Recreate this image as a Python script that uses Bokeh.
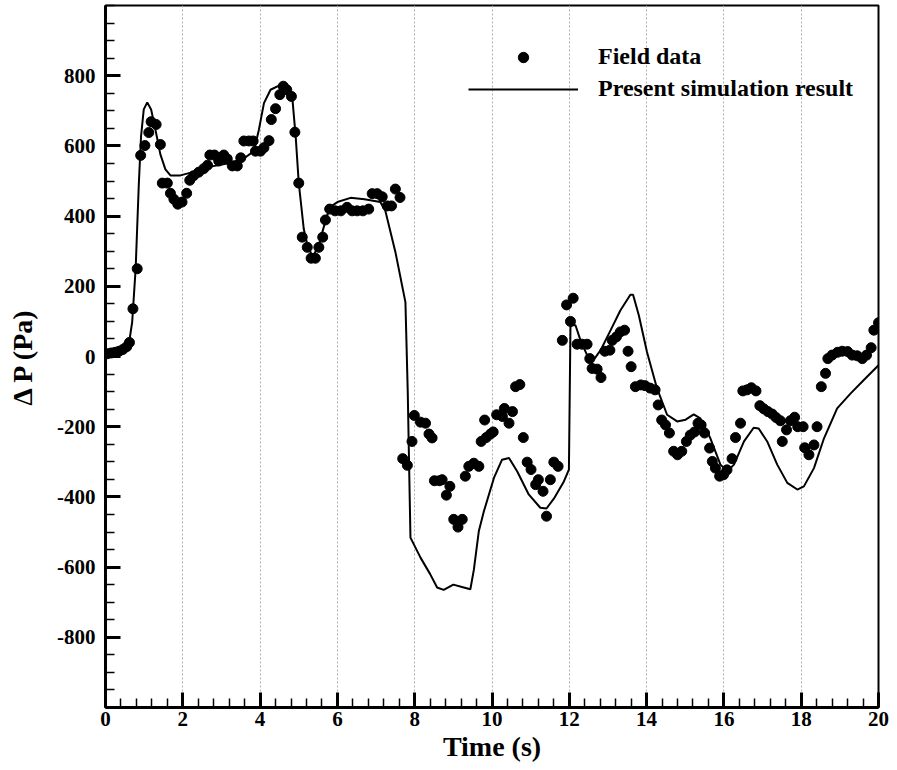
from bokeh.plotting import figure
from bokeh.models import FixedTicker, Legend, LegendItem, Range1d, PrintfTickFormatter
from bokeh.embed import file_html
from bokeh.resources import INLINE

# ---- data ----
field_t = [0.05, 0.15, 0.25, 0.35, 0.45, 0.55, 0.62, 0.71, 0.82, 0.91, 1.02, 1.12, 1.18, 1.31, 1.42,
           1.47, 1.6, 1.68, 1.77, 1.87, 1.98, 2.1, 2.18, 2.28, 2.41, 2.54, 2.64, 2.7, 2.82, 2.93,
           3.06, 3.15, 3.28, 3.41, 3.5, 3.58, 3.71, 3.82, 3.88, 4.01, 4.1, 4.23, 4.29, 4.4, 4.51,
           4.6, 4.69, 4.81, 4.9, 5.0, 5.09, 5.22, 5.32, 5.43, 5.52, 5.62, 5.69, 5.8, 5.94, 6.09,
           6.25, 6.38, 6.51, 6.66, 6.81, 6.9, 7.03, 7.16, 7.29, 7.4, 7.5, 7.62, 7.69, 7.81, 7.93,
           7.99, 8.15, 8.28, 8.37, 8.45, 8.51, 8.64, 8.71, 8.82, 8.91, 9.01, 9.12, 9.23, 9.31, 9.4,
           9.53, 9.66, 9.72, 9.81, 9.85, 9.96, 10.03, 10.12, 10.27, 10.32, 10.44, 10.53, 10.61, 10.72, 10.81,
           10.91, 11.01, 11.13, 11.2, 11.32, 11.41, 11.51, 11.6, 11.71, 11.82, 11.93, 12.03, 12.1, 12.2, 12.33,
           12.46, 12.53, 12.59, 12.72, 12.82, 12.92, 13.05, 13.11, 13.22, 13.32, 13.43, 13.52, 13.6, 13.71, 13.85,
           13.96, 14.09, 14.22, 14.3, 14.39, 14.49, 14.59, 14.7, 14.8, 14.91, 15.03, 15.13, 15.24, 15.33, 15.41,
           15.5, 15.63, 15.7, 15.78, 15.89, 15.99, 16.08, 16.21, 16.3, 16.43, 16.49, 16.6, 16.71, 16.83, 16.93,
           17.03, 17.14, 17.25, 17.35, 17.46, 17.51, 17.62, 17.72, 17.83, 17.91, 18.05, 18.09, 18.2, 18.33, 18.41,
           18.52, 18.63, 18.69, 18.8, 18.94, 19.06, 19.2, 19.32, 19.45, 19.58, 19.69, 19.81, 19.88, 20.0]
field_dp = [8, 10, 12, 15, 20, 28, 40, 136, 250, 573, 601, 638, 669, 661, 604,
            494, 494, 465, 448, 434, 440, 465, 502, 515, 525, 535, 545, 574, 574, 557,
            574, 563, 543, 543, 566, 614, 614, 614, 585, 585, 595, 615, 675, 706, 746,
            770, 760, 741, 639, 494, 340, 311, 280, 280, 311, 340, 389, 420, 415, 415,
            425, 415, 415, 415, 420, 464, 464, 455, 429, 429, 477, 453, -291, -310, -242,
            -168, -187, -190, -221, -232, -354, -354, -351, -395, -370, -464, -486, -464, -341, -313,
            -304, -313, -242, -181, -231, -221, -215, -166, -171, -148, -190, -157, -86, -80, -231,
            -301, -322, -365, -351, -384, -455, -351, -301, -313, 46, 147, 100, 166, 35, 35,
            35, -6, -34, -36, -60, 15, 18, 46, 56, 70, 75, 15, -29, -86, -81,
            -83, -90, -95, -138, -181, -195, -218, -270, -280, -270, -242, -224, -215, -190, -195,
            -218, -261, -299, -318, -341, -337, -323, -291, -231, -190, -98, -95, -89, -98, -140,
            -149, -157, -164, -174, -183, -242, -209, -183, -173, -200, -200, -260, -280, -252, -200,
            -86, -48, -6, 4, 12, 15, 14, 4, 2, -6, 4, 25, 75, 96]

sim_t = [0, 0.3, 0.5, 0.6, 0.69, 0.78, 0.86, 0.92, 0.99, 1.08, 1.18, 1.29, 1.42, 1.55, 1.68,
         1.94, 2.28, 2.72, 3.15, 3.58, 3.84, 3.97, 4.1, 4.27, 4.53, 4.69, 4.83, 4.92, 5.0, 5.13,
         5.22, 5.35, 5.5, 5.65, 5.8, 6.0, 6.34, 6.7, 7.11, 7.24, 7.5, 7.76, 7.82, 7.89, 8.15,
         8.4, 8.58, 8.75, 9.0, 9.27, 9.44, 9.53, 9.66, 9.79, 10.05, 10.26, 10.44, 10.65, 10.95, 11.25,
         11.41, 11.6, 11.86, 11.99, 12.03, 12.07, 12.16, 12.29, 12.46, 12.64, 12.81, 13.07, 13.32, 13.58, 13.65,
         13.8, 14.01, 14.27, 14.53, 14.79, 15.01, 15.22, 15.39, 15.65, 15.91, 16.09, 16.26, 16.52, 16.77, 16.9,
         17.12, 17.38, 17.64, 17.9, 18.07, 18.33, 18.59, 18.93, 19.28, 19.62, 20.0]
sim_dp = [10, 12, 18, 32, 98, 250, 486, 628, 704, 724, 704, 647, 576, 533, 516,
          516, 526, 541, 550, 564, 585, 647, 722, 760, 774, 770, 741, 628, 495, 363,
          320, 285, 310, 370, 425, 440, 452, 448, 440, 415, 298, 155, -100, -516, -573,
          -620, -658, -665, -650, -658, -663, -608, -497, -441, -346, -294, -289, -327, -393, -431,
          -433, -405, -356, -322, 84, 89, 89, 46, 4, -8, 18, 75, 131, 176, 176,
          117, 13, -91, -166, -185, -180, -165, -176, -233, -308, -327, -308, -242, -203, -205,
          -242, -308, -360, -379, -370, -318, -233, -148, -105, -67, -25]

x_major_ticks = [0, 2, 4, 6, 8, 10, 12, 14, 16, 18, 20]
x_minor_ticks = [round(0.4 * i, 2) for i in range(51)]
y_major_ticks = [-800, -600, -400, -200, 0, 200, 400, 600, 800]
y_minor_ticks = list(range(-1000, 1001, 50))

FONT = "Liberation Serif"

p = figure(width=897, height=770, output_backend="svg", toolbar_location=None,
           x_range=Range1d(0, 20), y_range=Range1d(-1000, 1000),
           min_border_left=105, min_border_right=19, min_border_top=5, min_border_bottom=63)
p.background_fill_color = "white"
p.border_fill_color = "white"
p.outline_line_color = "black"
p.outline_line_width = 2

line_r = p.line(sim_t, sim_dp, line_color="black", line_width=2)
dots_r = p.scatter(field_t, field_dp, size=10, fill_color="black", line_color="black")

for ax, major, minor in ((p.xaxis[0], x_major_ticks, x_minor_ticks), (p.yaxis[0], y_major_ticks, y_minor_ticks)):
    ax.ticker = FixedTicker(ticks=major, minor_ticks=minor)
    ax.formatter = PrintfTickFormatter(format="%d")
    ax.axis_line_width = 3
    ax.axis_line_color = "black"
    ax.major_tick_in = 15
    ax.major_tick_out = 0
    ax.minor_tick_in = 9
    ax.minor_tick_out = 0
    ax.major_tick_line_width = 3
    ax.minor_tick_line_width = 1.5
    ax.major_label_text_font = FONT
    ax.major_label_text_font_style = "bold"
    ax.major_label_text_font_size = "21px"
    ax.major_label_text_color = "black"
    ax.axis_label_text_font = FONT
    ax.axis_label_text_font_style = "bold"
    ax.axis_label_text_font_size = "28px"
    ax.axis_label_text_color = "black"

p.xaxis.axis_label = "Time (s)"
p.yaxis.axis_label = "Δ P (Pa)"
p.xaxis.major_label_standoff = 4
p.xaxis.axis_label_standoff = 2
p.yaxis.major_label_standoff = 10
p.yaxis.axis_label_standoff = 16

p.xgrid.ticker = FixedTicker(ticks=x_major_ticks)
p.xgrid.grid_line_color = "#b0b0b0"
p.xgrid.grid_line_dash = "2 2"
p.xgrid.grid_line_width = 1
p.ygrid.visible = False

legend = Legend(items=[LegendItem(label="Field data", renderers=[dots_r]),
                       LegendItem(label="Present simulation result", renderers=[line_r])],
                location=(363, 605), orientation="vertical")
legend.label_text_font = FONT
legend.label_text_font_style = "bold"
legend.label_text_font_size = "24px"
legend.label_text_color = "black"
legend.glyph_width = 110
legend.glyph_height = 26
legend.label_height = 26
legend.label_standoff = 20
legend.spacing = 5
legend.padding = 4
legend.margin = 0
legend.border_line_color = None
legend.background_fill_alpha = 0
p.add_layout(legend, "center")

open("out.html", "w").write(file_html(p, INLINE))
